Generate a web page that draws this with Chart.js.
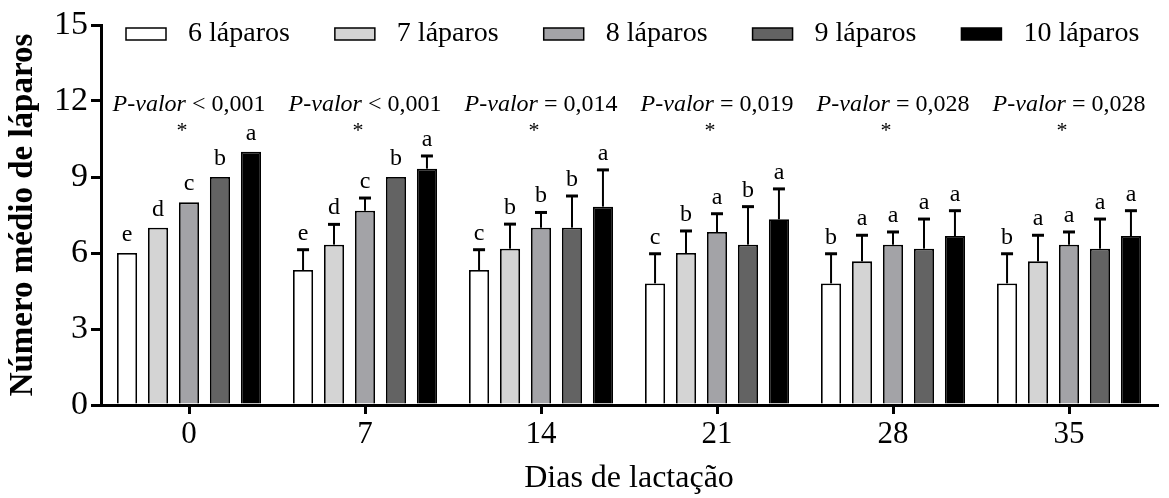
<!DOCTYPE html>
<html>
<head>
<meta charset="utf-8">
<script src="https://cdn.jsdelivr.net/npm/chart.js@4.4.1/dist/chart.umd.min.js"></script>
<style>
  html, body { margin: 0; padding: 0; background: #fff; }
  #wrap { width: 1169px; height: 498px; position: relative; }
</style>
</head>
<body>
<div id="wrap"><canvas id="laparosChart"></canvas></div>
<script>
// Dados
const dias = ["0", "7", "14", "21", "28", "35"];
const grupos = ["6 láparos", "7 láparos", "8 láparos", "9 láparos", "10 láparos"];

const media6 = [6.0, 5.33, 5.33, 4.8, 4.8, 4.8];
const media7 = [7.0, 6.33, 6.17, 6.0, 5.67, 5.67];
const media8 = [8.0, 7.67, 7.0, 6.83, 6.33, 6.33];
const media9 = [9.0, 9.0, 7.0, 6.33, 6.17, 6.17];
const media10 = [10.0, 9.33, 7.83, 7.33, 6.67, 6.67];

const erro6 = [0, 0.8, 0.8, 1.17, 1.17, 1.17];
const erro7 = [0, 0.8, 0.97, 0.87, 1.03, 1.03];
const erro8 = [0, 0.5, 0.6, 0.72, 0.5, 0.5];
const erro9 = [0, 0, 1.25, 1.5, 1.17, 1.17];
const erro10 = [0, 0.5, 1.45, 1.2, 1.0, 1.0];

const letras6 = ["e", "e", "c", "c", "b", "b"];
const letras7 = ["d", "d", "b", "b", "a", "a"];
const letras8 = ["c", "c", "b", "a", "a", "a"];
const letras9 = ["b", "b", "b", "b", "a", "a"];
const letras10 = ["a", "a", "a", "a", "a", "a"];

const pValores = ["< 0,001", "< 0,001", "= 0,014", "= 0,019", "= 0,028", "= 0,028"];
const yTicks = [0, 3, 6, 9, 12, 15];

const cores = ["#ffffff", "#d4d4d4", "#a3a3a7", "#636363", "#000000"];
const medias = [media6, media7, media8, media9, media10];
const erros = [erro6, erro7, erro8, erro9, erro10];
const letras = [letras6, letras7, letras8, letras9, letras10];

const fonte = "'Liberation Serif', 'Times New Roman', serif";

// Barras de erro, letras, P-valor e legenda
const anotacoes = {
  id: "anotacoes",
  afterDatasetsDraw(chart) {
    const ctx = chart.ctx;
    const y = chart.scales.y;
    const x = chart.scales.x;
    ctx.save();
    ctx.strokeStyle = "#000";
    ctx.fillStyle = "#000";

    chart.data.datasets.forEach((ds, d) => {
      const meta = chart.getDatasetMeta(d);
      meta.data.forEach((bar, i) => {
        const v = ds.data[i];
        const e = erros[d][i];
        const yTop = y.getPixelForValue(v + e);
        if (e > 0) {
          ctx.lineWidth = 2;
          ctx.beginPath();
          ctx.moveTo(bar.x, bar.y);
          ctx.lineTo(bar.x, yTop);
          ctx.stroke();
          ctx.lineWidth = 3;
          ctx.beginPath();
          ctx.moveTo(bar.x - 6, yTop);
          ctx.lineTo(bar.x + 6, yTop);
          ctx.stroke();
        }
        ctx.font = "24px " + fonte;
        ctx.textAlign = "center";
        ctx.textBaseline = "alphabetic";
        ctx.fillText(letras[d][i], bar.x, yTop - (e > 0 ? 10 : 12));
      });
    });

    // P-valor e asterisco
    dias.forEach((dia, i) => {
      const cx = x.getPixelForValue(i);
      const base = chart.chartArea.top + 86;
      ctx.textBaseline = "alphabetic";
      ctx.font = "italic 24px " + fonte;
      const t1 = "P-valor";
      const w1 = ctx.measureText(t1).width;
      ctx.font = "24px " + fonte;
      const t2 = " " + pValores[i];
      const w2 = ctx.measureText(t2).width;
      const x0 = cx - (w1 + w2) / 2;
      ctx.textAlign = "left";
      ctx.font = "italic 24px " + fonte;
      ctx.fillText(t1, x0, base);
      ctx.font = "24px " + fonte;
      ctx.fillText(t2, x0 + w1, base);
      ctx.font = "22px " + fonte;
      ctx.textAlign = "center";
      ctx.fillText("*", cx - 7, base + 26);
    });

    // Legenda
    let lx = 126;
    const ly = chart.chartArea.top + 3;
    ctx.font = "28px " + fonte;
    ctx.textAlign = "left";
    ctx.textBaseline = "middle";
    chart.data.datasets.forEach((ds) => {
      ctx.fillStyle = ds.backgroundColor;
      ctx.fillRect(lx, ly, 40, 12);
      ctx.lineWidth = 1.5;
      ctx.strokeStyle = "#000";
      ctx.strokeRect(lx, ly, 40, 12);
      ctx.fillStyle = "#000";
      ctx.fillText(ds.label, lx + 62, ly + 6);
      lx += 40 + 22 + ctx.measureText(ds.label).width + 45;
    });
    ctx.restore();
  },
};

const dataLaparos = {
  labels: dias,
  datasets: grupos.map((g, k) => ({
    label: g,
    data: medias[k],
    backgroundColor: cores[k],
    borderColor: "#000",
    borderWidth: 1.8,
    categoryPercentage: 0.88,
    barPercentage: 0.65,
  })),
};

const configLaparos = {
  type: "bar",
  data: dataLaparos,
  plugins: [anotacoes],
  options: {
    responsive: true,
    maintainAspectRatio: false,
    animation: false,
    layout: { padding: { left: 0, right: 12, top: 25, bottom: 0 } },
    plugins: {
      legend: { display: false },
      tooltip: { enabled: false },
    },
    scales: {
      x: {
        afterFit: (s) => { s.height = 93; },
        grid: { offset: false, drawOnChartArea: false, drawTicks: true, tickLength: 9, lineWidth: 3, color: "#000" },
        border: { display: true, width: 3, color: "#000" },
        ticks: { color: "#000", font: { family: fonte, size: 31 }, padding: 2 },
        title: {
          display: true,
          text: "Dias de lactação",
          color: "#000",
          font: { family: fonte, size: 32 },
          padding: { top: 0, bottom: 0 },
        },
      },
      y: {
        min: 0,
        max: 15,
        afterFit: (s) => { s.width = 101; },
        afterBuildTicks: (s) => { s.ticks = yTicks.map((v) => ({ value: v })); },
        grid: { drawOnChartArea: false, drawTicks: true, tickLength: 10, lineWidth: 3, color: "#000" },
        border: { display: true, width: 3, color: "#000" },
        ticks: { color: "#000", font: { family: fonte, size: 34 }, padding: 3 },
        title: {
          display: true,
          text: "Número médio de láparos",
          color: "#000",
          font: { family: fonte, size: 33, weight: "bold" },
          padding: { top: 4, bottom: 0 },
        },
      },
    },
  },
};

window.addEventListener("DOMContentLoaded", () => {
  const ctx = document.getElementById("laparosChart").getContext("2d");
  new Chart(ctx, configLaparos);
});
</script>
</body>
</html>
